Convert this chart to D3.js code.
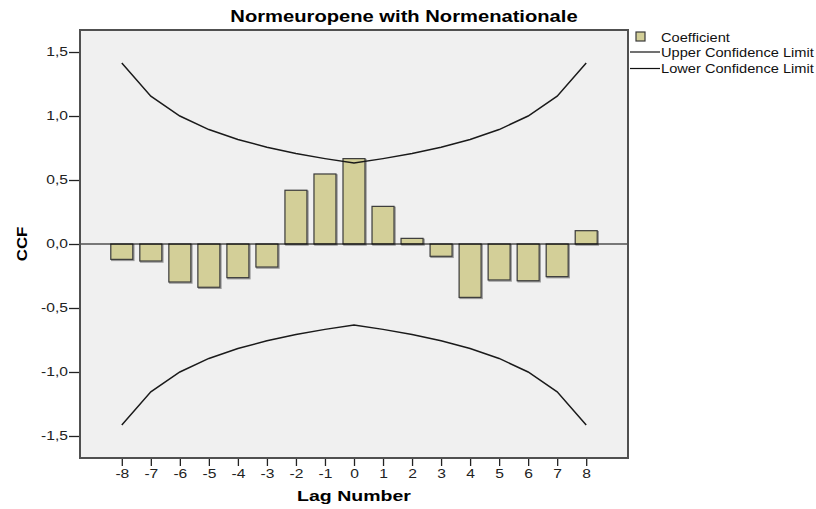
<!DOCTYPE html>
<html>
<head>
<meta charset="utf-8">
<script src="https://cdn.jsdelivr.net/npm/d3@7"></script>
<style>
  body { margin: 0; background: #fff; }
  text { font-family: Arial, "Liberation Sans", sans-serif; }
</style>
</head>
<body>
<script>
// data
var lags = [-8, -7, -6, -5, -4, -3, -2, -1, 0, 1, 2, 3, 4, 5, 6, 7, 8];
var coefficient = [-0.12, -0.133, -0.297, -0.338, -0.263, -0.18, 0.42, 0.547, 0.667,
                   0.294, 0.044, -0.096, -0.417, -0.281, -0.287, -0.255, 0.104];
var upperLimit = [1.414, 1.155, 1.0, 0.894, 0.816, 0.756, 0.707, 0.667, 0.632,
                  0.667, 0.707, 0.756, 0.816, 0.894, 1.0, 1.155, 1.414];
var lowerLimit = [-1.414, -1.155, -1.0, -0.894, -0.816, -0.756, -0.707, -0.667, -0.632,
                  -0.667, -0.707, -0.756, -0.816, -0.894, -1.0, -1.155, -1.414];
var yTicks = [-1.5, -1.0, -0.5, 0, 0.5, 1.0, 1.5];
var legendLabels = ["Coefficient", "Upper Confidence Limit", "Lower Confidence Limit"];

//positioning/sizing
var svg_dx = 816, svg_dy = 509,
    plot = {left: 80, top: 30, right: 628, bottom: 458};

var x = d3.scaleLinear().domain([-9.44, 9.44]).range([plot.left, plot.right]),
    y = d3.scaleLinear().domain([-1.672, 1.672]).range([plot.bottom, plot.top]);

var svg = d3.select("body").append("svg")
    .attr("width", svg_dx)
    .attr("height", svg_dy);

// the original text is rendered a bit wide, so stretch it horizontally
function stretch(sel, f) {
  sel.each(function() {
    var w = this.getComputedTextLength();
    d3.select(this).attr("textLength", w * f).attr("lengthAdjust", "spacingAndGlyphs");
  });
}

var data = lags.map(function(l, i) {
  return {lag: l, coef: coefficient[i], upper: upperLimit[i], lower: lowerLimit[i]};
});

// plot background
svg.append("rect")
   .attr("x", plot.left).attr("y", plot.top)
   .attr("width", plot.right - plot.left).attr("height", plot.bottom - plot.top)
   .attr("fill", "#f0f0f0");

// bars
var barW = 22;
var bars = svg.append("g");
bars.selectAll("rect.shadow")
    .data(data).enter().append("rect")
    .attr("x", d => x(d.lag) - barW / 2 + 1)
    .attr("y", d => Math.min(y(d.coef), y(0)) + 1)
    .attr("width", barW)
    .attr("height", d => Math.abs(y(d.coef) - y(0)))
    .attr("fill", "none")
    .attr("stroke", "#999")
    .attr("stroke-width", 1.5);
bars.selectAll("rect.bar")
    .data(data).enter().append("rect")
    .attr("x", d => x(d.lag) - barW / 2)
    .attr("y", d => Math.min(y(d.coef), y(0)))
    .attr("width", barW)
    .attr("height", d => Math.abs(y(d.coef) - y(0)))
    .attr("fill", "#d3cf98")
    .attr("stroke", "#3a3a3a")
    .attr("stroke-width", 1.2);

// zero line
svg.append("line")
   .attr("x1", plot.left).attr("x2", plot.right)
   .attr("y1", y(0)).attr("y2", y(0))
   .attr("stroke", "#000").attr("stroke-width", 1.2);

// confidence limits
var line = d3.line().x(d => x(d[0])).y(d => y(d[1]));
[upperLimit, lowerLimit].forEach(function(s) {
  svg.append("path")
     .attr("d", line(lags.map((l, i) => [l, s[i]])))
     .attr("fill", "none")
     .attr("stroke", "#1a1a1a")
     .attr("stroke-width", 1.5);
});

// frame
svg.append("rect")
   .attr("x", plot.left).attr("y", plot.top)
   .attr("width", plot.right - plot.left).attr("height", plot.bottom - plot.top)
   .attr("fill", "none")
   .attr("stroke", "#505050")
   .attr("stroke-width", 2);

// axes
var axis_y = d3.axisLeft(y).tickValues(yTicks).tickSize(10).tickPadding(1)
    .tickFormat(d => d3.format(".1f")(d).replace(".", ",").replace("−", "-"));
var gy = svg.append("g")
   .attr("transform", "translate(" + (plot.left - 1) + ",0)")
   .call(axis_y);
gy.select(".domain").remove();
gy.selectAll("line").attr("stroke", "#222").attr("stroke-width", 1.3);
gy.selectAll("text").attr("font-size", 12).attr("fill", "#222")
  .attr("font-family", "Arial, 'Liberation Sans', sans-serif")
  .call(stretch, 1.3);

var axis_x = d3.axisBottom(x).tickValues(lags).tickSize(7).tickPadding(3)
    .tickFormat(d => String(d));
var gx = svg.append("g")
   .attr("transform", "translate(0," + (plot.bottom + 1) + ")")
   .call(axis_x);
gx.select(".domain").remove();
gx.selectAll("line").attr("stroke", "#222").attr("stroke-width", 1.3);
gx.selectAll("text").attr("font-size", 12).attr("fill", "#222")
  .attr("font-family", "Arial, 'Liberation Sans', sans-serif")
  .call(stretch, 1.3);

// titles
svg.append("text")
   .attr("x", 404).attr("y", 22)
   .attr("text-anchor", "middle")
   .attr("font-size", 16).attr("font-weight", "bold")
   .text("Normeuropene with Normenationale")
   .call(stretch, 1.26);

svg.append("text")
   .attr("x", plot.left + (plot.right - plot.left) / 2).attr("y", 501)
   .attr("text-anchor", "middle")
   .attr("font-size", 15).attr("font-weight", "bold")
   .text("Lag Number")
   .call(stretch, 1.3);

svg.append("text")
   .attr("transform", "translate(27," + y(0) + ") rotate(-90)")
   .attr("text-anchor", "middle")
   .attr("font-size", 15).attr("font-weight", "bold")
   .text("CCF")
   .call(stretch, 1.12);

// legend
var lg = svg.append("g").attr("transform", "translate(630,0)");
lg.append("rect")
  .attr("x", 6).attr("y", 32).attr("width", 9).attr("height", 9)
  .attr("fill", "#d3cf98").attr("stroke", "#3a3a3a").attr("stroke-width", 1.2);
lg.append("line").attr("x1", 0).attr("x2", 30).attr("y1", 52).attr("y2", 52)
  .attr("stroke", "#111").attr("stroke-width", 1.2);
lg.append("line").attr("x1", 0).attr("x2", 30).attr("y1", 68.5).attr("y2", 68.5)
  .attr("stroke", "#111").attr("stroke-width", 1.2);
lg.selectAll("text.leg")
  .data(legendLabels).enter().append("text")
  .attr("x", 31)
  .attr("y", (d, i) => [41.5, 56.5, 73][i])
  .attr("font-size", 12.5).attr("fill", "#111")
  .text(d => d)
  .call(stretch, 1.17);
</script>
</body>
</html>
